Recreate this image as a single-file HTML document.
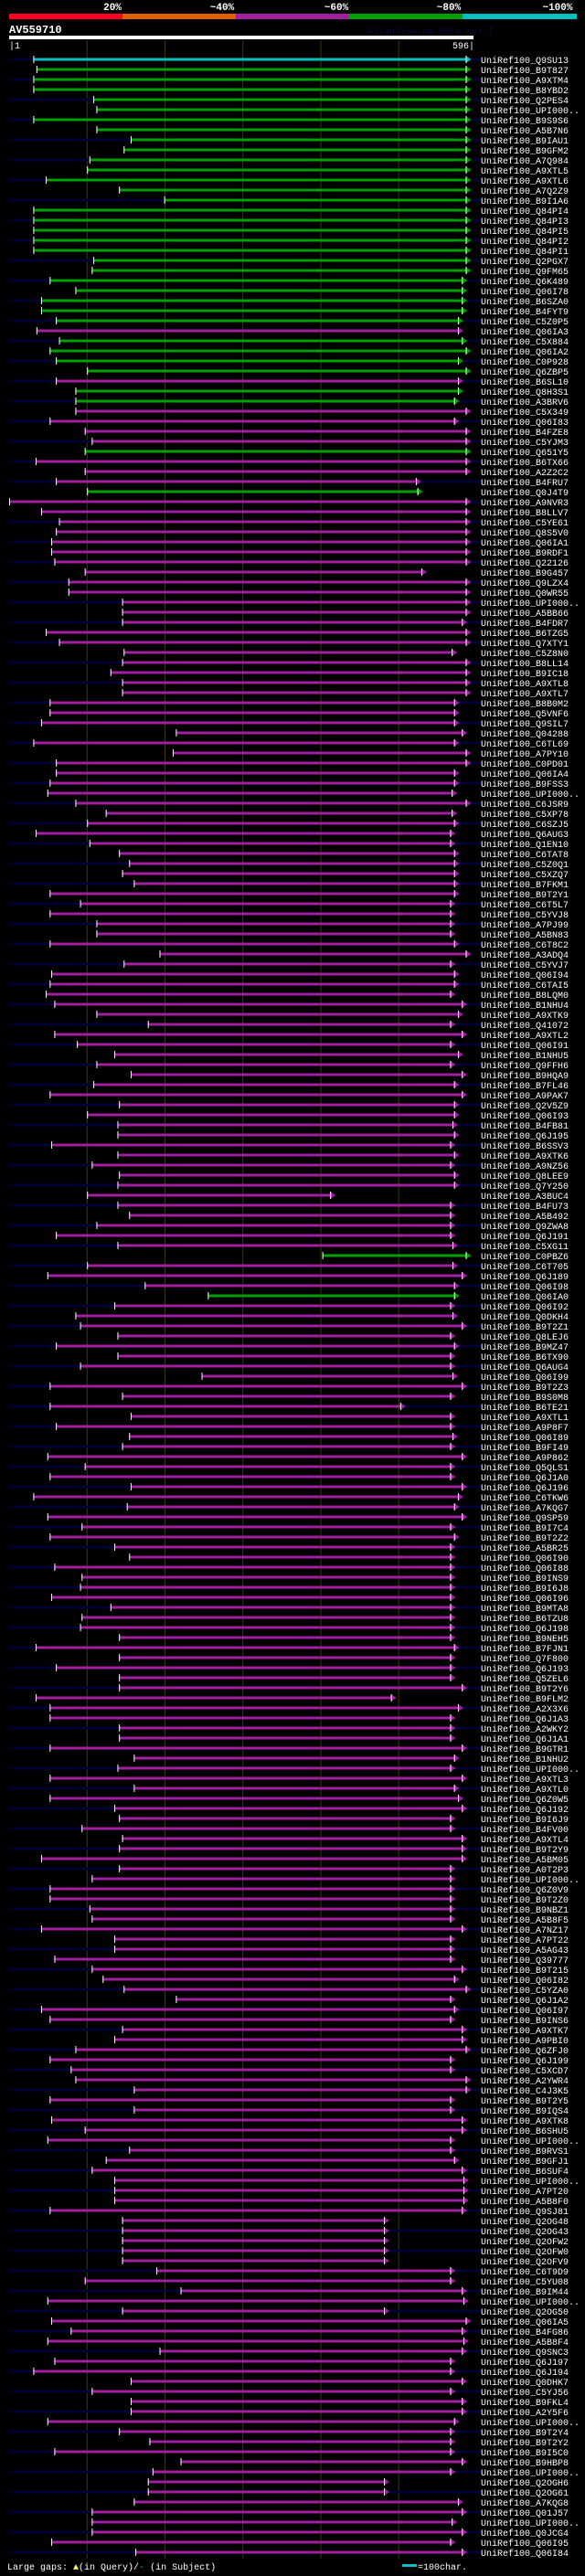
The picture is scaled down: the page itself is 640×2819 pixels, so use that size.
<!DOCTYPE html>
<html><head><meta charset="utf-8"><style>
html,body{margin:0;padding:0;background:#000;width:640px;height:2819px;overflow:hidden}
svg{display:block}
</style></head><body>
<svg id="chart" width="640" height="2819" xmlns="http://www.w3.org/2000/svg" font-family="Liberation Mono, monospace">
<rect x="0" y="0" width="640" height="2819" fill="#000"/>
<g>
<rect x="10" y="15" width="124" height="6" fill="#ff0020"/>
<rect x="134" y="15" width="124" height="6" fill="#e06000"/>
<rect x="258" y="15" width="124" height="6" fill="#a020a0"/>
<rect x="382" y="15" width="124" height="6" fill="#00a000"/>
<rect x="506" y="15" width="125" height="6" fill="#00c0c0"/>
<g fill="#fff" font-size="11" font-weight="bold" text-anchor="middle">
<text x="123" y="11">20%</text><text x="243" y="11">~40%</text><text x="368" y="11">~60%</text><text x="491" y="11">~80%</text><text x="610" y="11">~100%</text>
</g></g>
<text x="10" y="36" fill="#fff" font-size="12" font-weight="bold">AV559710</text>
<text x="402" y="37" fill="#0a0a40" font-size="10">AlignView.pm Beta rel.7</text>
<rect x="10" y="39" width="508" height="4" fill="#fff"/>
<text x="10" y="53" fill="#fff" font-size="10">|1</text>
<text x="519" y="53" fill="#fff" font-size="10" text-anchor="end">596|</text>
<g id="grid"></g>
<g id="rows"></g>
<g>
<text x="8" y="2812" fill="#fff" font-size="10">Large gaps: <tspan fill="#ffff60">▲</tspan>(in Query)/<tspan fill="#00c0c0">-</tspan> (in Subject)</text>
<rect x="440" y="2806" width="16" height="3" fill="#00c0c0"/>
<text x="457" y="2812" fill="#fff" font-size="10">=100char.</text>
</g>
</svg>
<script>
const labels = ["Q9SU13","B9T827","A9XTM4","B8YBD2","Q2PES4","UPI000..","B9S9S6","A5B7N6","B9IAU1","B9GFM2","A7Q984","A9XTL5","A9XTL6","A7Q2Z9","B9I1A6","Q84PI4","Q84PI3","Q84PI5","Q84PI2","Q84PI1","Q2PGX7","Q9FM65","Q6K489","Q06I78","B6SZA0","B4FYT9","C5Z0P5","Q06IA3","C5X884","Q06IA2","C0P928",
"Q6ZBP5","B6SL10","Q8H3S1","A3BRV6","C5X349","Q06I83","B4FZE8","C5YJM3","Q651Y5","B6TX66","A2Z2C2","B4FRU7","Q0J4T9","A9NVR3","B8LLV7","C5YE61","Q8S5V0","Q06IA1","B9RDF1","Q22126","B9G457","Q9LZX4","Q0WR55","UPI000..","A5BB66","B4FDR7","B6TZG5","Q7XTY1","C5Z8N0","B8LL14","B9IC18",
"A9XTL8","A9XTL7","B8B0M2","Q5VNF6","Q9SIL7","Q04288","C6TL69","A7PY10","C0PD01","Q06IA4","B9FSS3","UPI000..","C6JSR9","C5XP78","C6SZJ5","Q6AUG3","Q1EN10","C6TAT8","C5Z0Q1","C5XZQ7","B7FKM1","B9T2Y1","C6T5L7","C5YVJ8","A7PJ99","A5BN83","C6T8C2","A3ADQ4","C5YVJ7","Q06I94","C6TAI5",
"B8LQM0","B1NHU4","A9XTK9","Q41072","A9XTL2","Q06I91","B1NHU5","Q9FFH6","B9HQA9","B7FL46","A9PAK7","Q2V5Z9","Q06I93","B4FB81","Q6J195","B6SSV3","A9XTK6","A9NZ56","Q8LEE9","Q7Y250","A3BUC4","B4FU73","A5B492","Q9ZWA8","Q6J191","C5XG11","C0PBZ6","C6T705","Q6J189","Q06I98","Q06IA0",
"Q06I92","Q0DKH4","B9T2Z1","Q8LEJ6","B9MZ47","B6TX90","Q6AUG4","Q06I99","B9T2Z3","B9S0M8","B6TE21","A9XTL1","A9P8F7","Q06I89","B9FI49","A9P862","Q5QLS1","Q6J1A0","Q6J196","C6TKW6","A7KQG7","Q9SP59","B9I7C4","B9T2Z2","A5BR25","Q06I90","Q06I88","B9INS9","B9I6J8","Q06I96","B9MTA8",
"B6TZU8","Q6J198","B9NEH5","B7FJN1","Q7F800","Q6J193","Q5ZEL6","B9T2Y6","B9FLM2","A2X3X6","Q6J1A3","A2WKY2","Q6J1A1","B9GTR1","B1NHU2","UPI000..","A9XTL3","A9XTL0","Q6Z0W5","Q6J192","B9I6J9","B4FV00","A9XTL4","B9T2Y9","A5BM05","A0T2P3","UPI000..","Q6Z0V9","B9T2Z0","B9NBZ1","A5B8F5",
"A7NZ17","A7PT22","A5AG43","Q39777","B9T215","Q06I82","C5YZA0","Q6J1A2","Q06I97","B9INS6","A9XTK7","A9PBI0","Q6ZFJ0","Q6J199","C5XCD7","A2YWR4","C4J3K5","B9T2Y5","B9IQS4","A9XTK8","B6SHU5","UPI000..","B9RVS1","B9GFJ1","B6SUF4","UPI000..","A7PT20","A5B8F0","Q9SJ81","Q2OG48","Q2OG43",
"Q2OFW2","Q2OFW0","Q2OFV9","C6T9D9","C5YU08","B9IM44","UPI000..","Q2OG50","Q06IA5","B4FG86","A5B8F4","Q9SNC3","Q6J197","Q6J194","Q0DHK7","C5YJ56","B9FKL4","A2Y5F6","UPI000..","B9T2Y4","B9T2Y2","B9I5C0","B9HBP8","UPI000..","Q2OGH6","Q2OG61","A7KQG8","Q01J57","UPI000..","Q0JCG4","Q06I95","Q06I84"];
const starts = [31,35,31,31,108,112,31,112,156,147,103,100,47,141,199,31,31,31,31,31,108,106,52,85,41,41,60,35,64,52,60,
100,60,85,85,85,52,97,106,97,34,97,60,100,0,41,64,60,54,54,58,97,76,76,145,145,145,47,64,147,145,130,
145,145,52,52,41,214,31,210,60,60,52,49,85,124,100,34,103,141,154,145,160,52,91,52,112,112,52,193,147,54,52,
47,58,112,178,58,87,135,112,156,108,52,141,100,139,139,54,139,106,141,139,100,139,154,112,60,139,402,100,49,174,255,
135,85,91,139,60,139,91,247,52,145,52,156,60,154,145,49,97,52,156,31,151,49,93,52,135,154,58,93,91,54,130,
93,91,141,34,141,60,141,141,34,52,52,141,141,52,160,139,52,160,52,135,141,93,145,141,41,141,106,52,52,103,106,
41,135,135,58,106,120,147,214,41,52,145,135,85,52,79,85,160,52,160,54,97,49,154,124,106,135,135,135,52,145,145,
145,145,145,189,97,220,49,145,54,79,49,193,58,31,156,106,156,156,49,141,180,58,220,184,178,178,160,106,106,106,54,162];
const ends = [586,586,586,586,586,586,586,586,586,586,586,586,586,586,586,586,586,586,586,586,586,586,581,581,581,581,576,576,581,586,576,
586,576,576,571,586,571,586,586,586,586,586,522,524,586,586,586,586,586,586,586,529,586,586,586,586,581,586,586,568,586,586,
586,586,571,571,571,581,571,586,586,571,571,568,586,568,571,566,566,571,571,571,571,571,566,566,566,566,571,586,566,571,571,
566,581,576,566,581,566,576,566,581,571,581,571,571,569,571,566,571,566,571,571,412,566,566,566,566,569,586,569,581,571,571,
566,569,581,566,571,566,566,569,581,566,502,566,566,569,566,581,566,566,581,576,571,581,566,571,566,566,566,566,566,566,566,
566,566,566,571,566,566,566,581,490,576,566,566,566,581,571,566,581,571,576,581,566,566,581,581,581,566,566,566,566,566,566,
581,566,566,566,581,571,586,566,571,566,581,581,586,566,566,586,586,566,566,581,581,566,566,571,581,583,583,583,581,481,481,
481,481,481,566,566,581,583,481,586,581,583,581,566,566,581,566,581,581,571,566,566,566,581,566,481,481,576,581,568,581,566,581];
const colors = "cgggggggggggggggggggggggggg" + "mgg" + "g" +
 "gmggmmmmgmmmgmmmmmmmmmmmmmmmmmmm" +
 "m".repeat(56) + "gmmmg" + "m".repeat(125);
const colorMap = {c:"#00c0c0", g:"#00a000", m:"#a020a0"};
const X0 = 10, XW = 508, QLEN = 596, ROW0 = 65, PITCH = 11;
function xs(r){ return X0 + r * XW / QLEN; }
function ys(i){ return ROW0 + i * PITCH; }
const NS = "http://www.w3.org/2000/svg";
const grid = document.getElementById("grid");
for (let t = 100; t < QLEN; t += 100) {
  const l = document.createElementNS(NS, "line");
  l.setAttribute("x1", xs(t)); l.setAttribute("x2", xs(t));
  l.setAttribute("y1", 44); l.setAttribute("y2", 2800);
  l.setAttribute("stroke", "#3a3a10"); l.setAttribute("stroke-width", 1);
  
  
  grid.appendChild(l);
}
const rows = document.getElementById("rows");
for (let i = 0; i < labels.length; i++) {
  const y = ys(i);
  const col = colorMap[colors[i] || "m"];
  const g = document.createElementNS(NS, "g");
  
  
  if (i % 2 === 0) {
    const bg = document.createElementNS(NS, "rect");
    bg.setAttribute("x", 10); bg.setAttribute("y", y - 1.5);
    bg.setAttribute("width", 517); bg.setAttribute("height", 3);
    bg.setAttribute("fill", "#000033");
    g.appendChild(bg);
  }
  const a = xs(starts[i]), b = xs(ends[i]);
  const bar = document.createElementNS(NS, "rect");
  bar.setAttribute("x", a); bar.setAttribute("y", y - 1.5);
  bar.setAttribute("width", b - a); bar.setAttribute("height", 3);
  bar.setAttribute("fill", col);
  
  
  g.appendChild(bar);
  const tick = document.createElementNS(NS, "rect");
  tick.setAttribute("x", a); tick.setAttribute("y", y - 4);
  tick.setAttribute("width", 1); tick.setAttribute("height", 8);
  tick.setAttribute("fill", "#fff");
  g.appendChild(tick);
  const arr = document.createElementNS(NS, "polygon");
  arr.setAttribute("points", b + "," + (y - 4) + " " + (b + 6) + "," + y + " " + b + "," + (y + 4));
  arr.setAttribute("fill", col);
  
  
  g.appendChild(arr);
  const bl = document.createElementNS(NS, "rect");
  bl.setAttribute("x", b); bl.setAttribute("y", y - 4);
  bl.setAttribute("width", 1); bl.setAttribute("height", 8);
  bl.setAttribute("fill", "#fff");
  g.appendChild(bl);
  const t = document.createElementNS(NS, "text");
  t.setAttribute("x", 526); t.setAttribute("y", y + 4);
  t.setAttribute("fill", "#fff"); t.setAttribute("font-size", "10");
  t.textContent = "UniRef100_" + labels[i];
  
  
  g.appendChild(t);
  rows.appendChild(g);
}
</script>
</body></html>
